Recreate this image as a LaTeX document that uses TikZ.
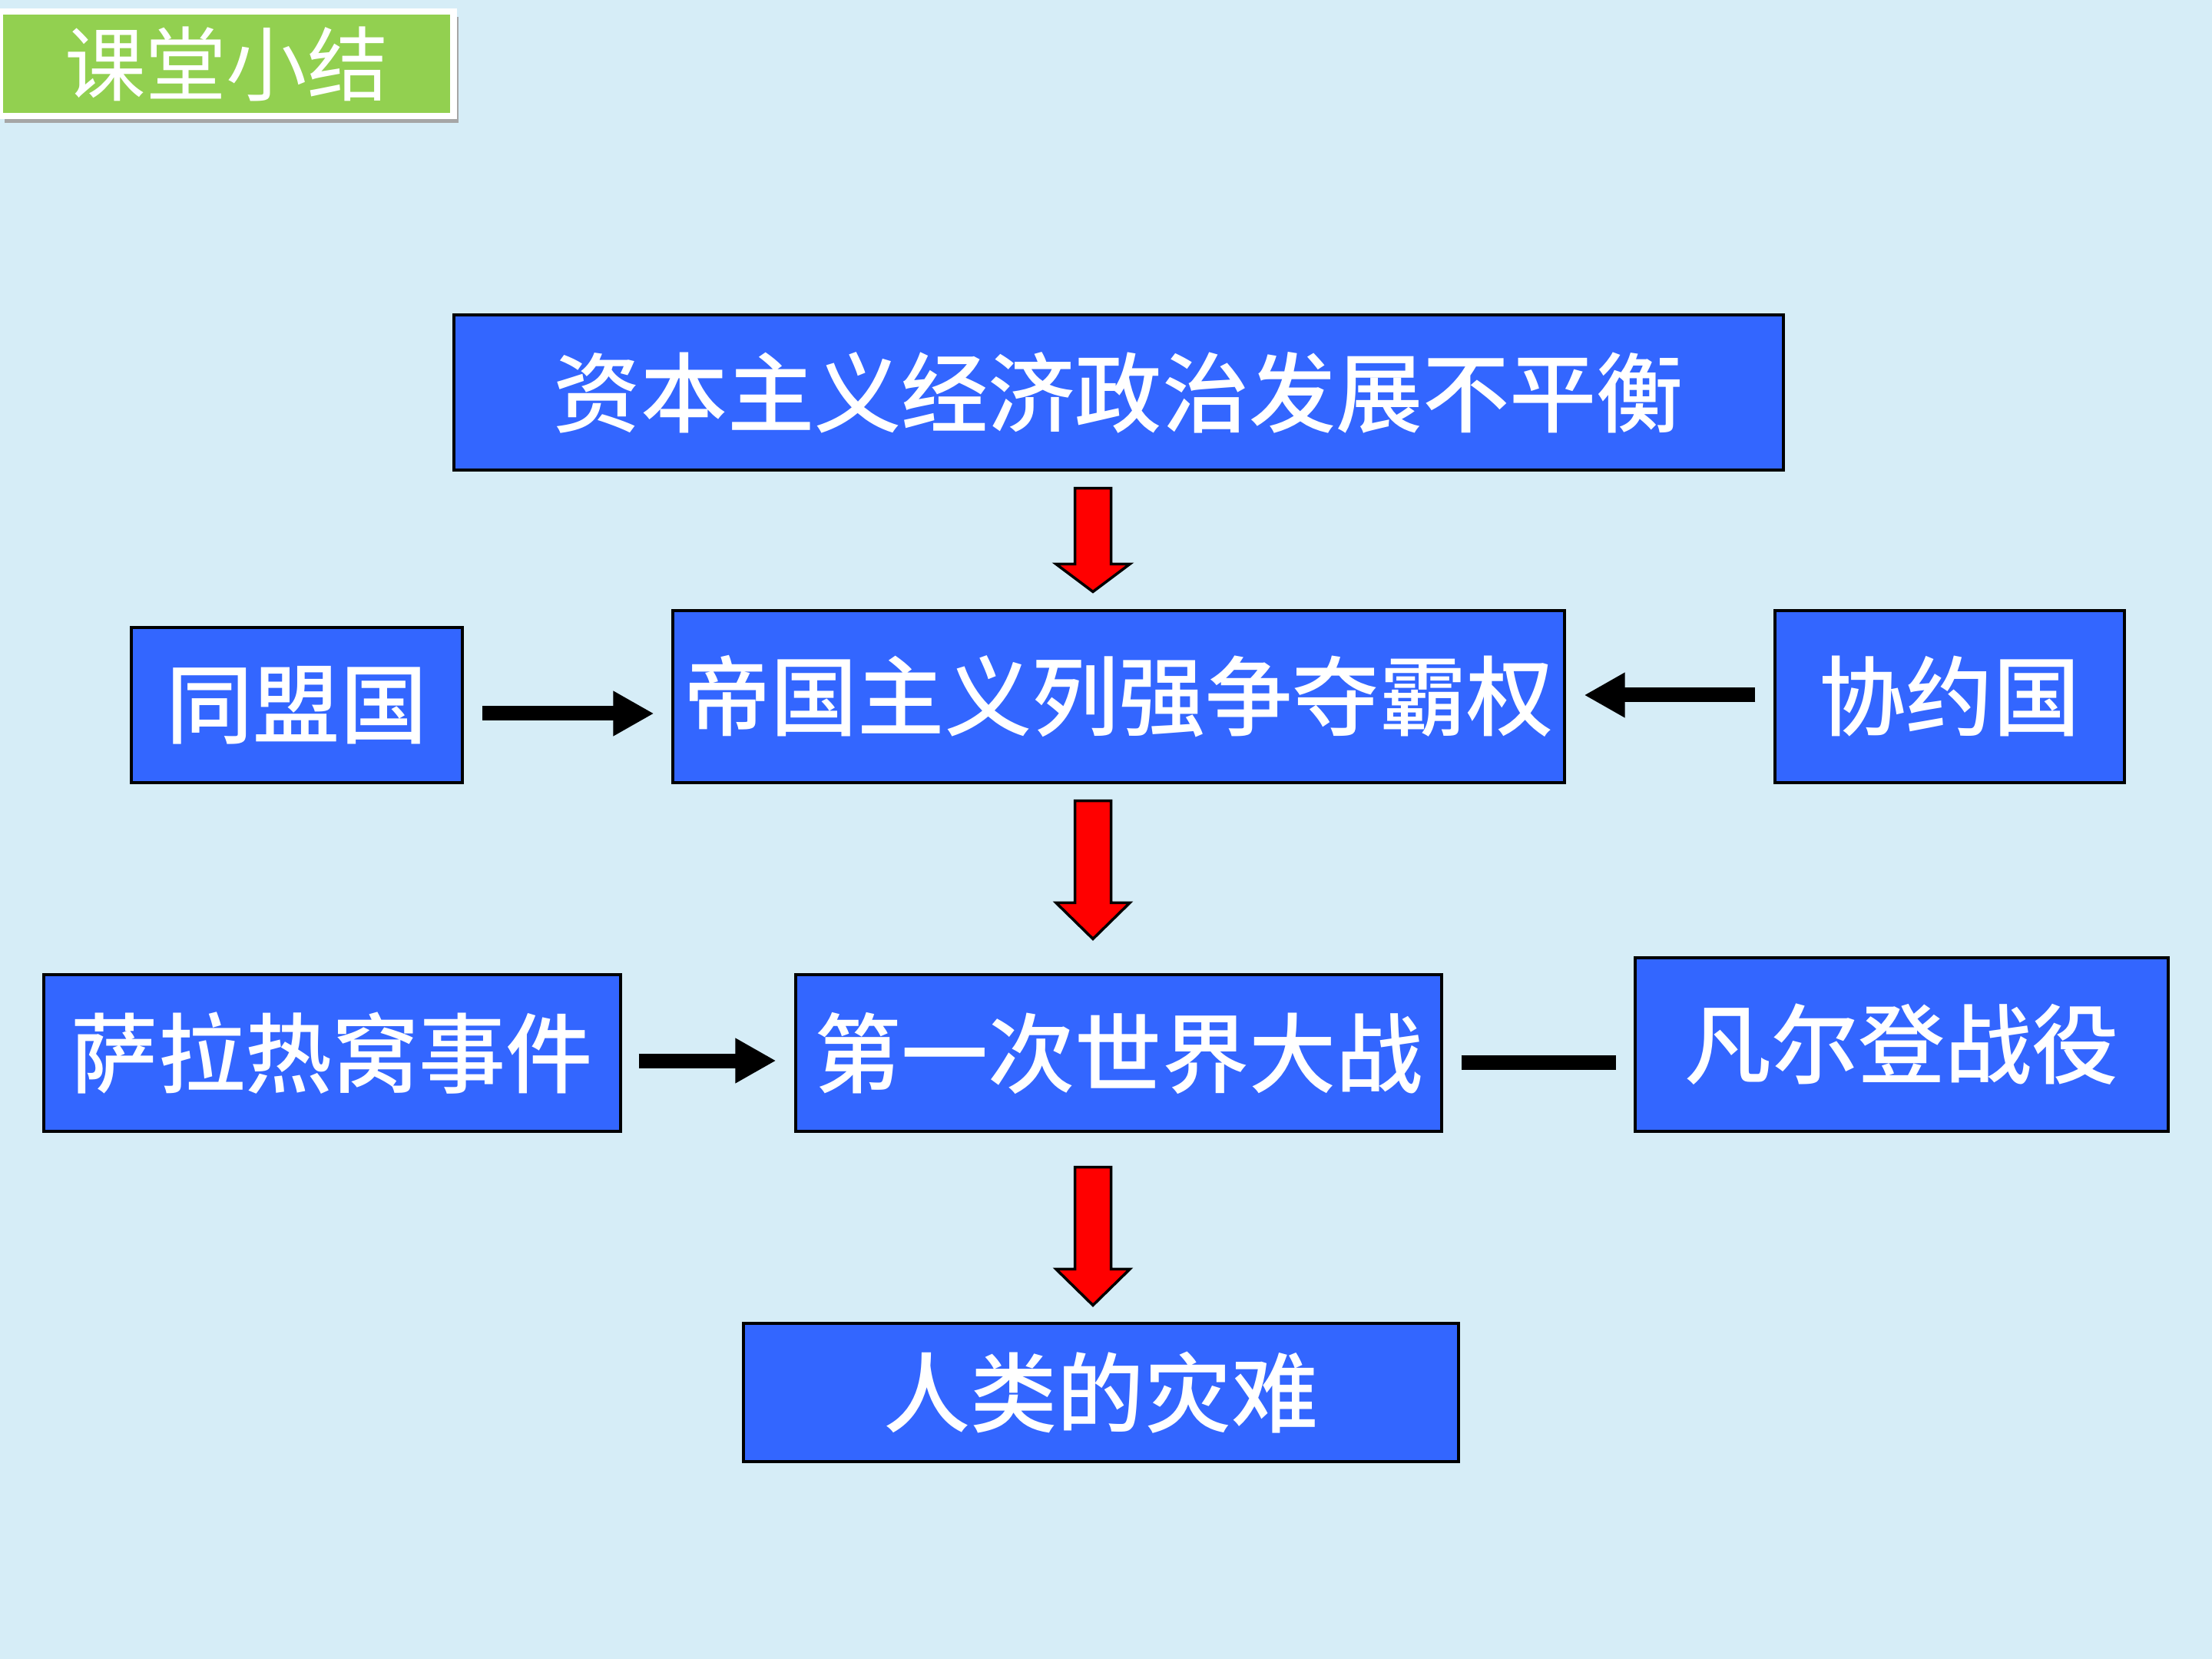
\documentclass[tikz,border=0pt]{standalone}
\usepackage{fontspec}
\usepackage{xcolor}
\usepackage{tikz}
\usetikzlibrary{positioning, calc, arrows.meta}

\newfontfamily\cjk{Noto Sans CJK SC}
\newfontfamily\cjkmed{Noto Sans CJK SC}[UprightFont={* Medium}]

\definecolor{slidebg}{RGB}{214,237,247}
\definecolor{boxblue}{RGB}{51,102,255}
\definecolor{titlegreen}{RGB}{146,208,80}
\definecolor{arrowred}{RGB}{255,0,0}

\tikzset{
  bluebox/.style={draw=black, line width=0.9pt, fill=boxblue, text=white,
    font=\cjkmed\fontsize{32.2}{32.2}\selectfont, inner sep=0pt, anchor=center},
  blackarrow/.style={line width=0.19cm, black,
    -{Triangle[length=0.53cm, width=0.55cm]}},
  blackline/.style={line width=0.19cm, black},
  redblock/.style={draw=black, line width=1pt, fill=arrowred, line join=miter}
}

% red block arrow: from, to, top gap, bottom gap, head length
\newcommand{\redblockarrow}[5]{%
  \draw[redblock] let \p1=($(#1.south)+(-0.335,-#3)$), \p2=($(#2.north)+(0,#4)$) in
    (\x1-0.235cm,\y1) -- (\x1+0.235cm,\y1) -- (\x1+0.235cm,\y2+#5) --
    (\x1+0.48cm,\y2+#5) -- (\x1,\y2) -- (\x1-0.48cm,\y2+#5) --
    (\x1-0.235cm,\y2+#5) -- cycle;
}

\begin{document}
\begin{tikzpicture}
  % background
  \fill[slidebg] (0,0) rectangle (28.8,-21.6);
  \useasboundingbox (0,0) rectangle (28.8,-21.6);

  % title tab
  \fill[black!35] (0.06,-0.22) rectangle (5.97,-1.6);
  \node[draw=white, line width=2.5pt, fill=titlegreen, text=white,
        minimum width=5.91cm, minimum height=1.36cm, inner sep=0pt,
        font=\cjk\fontsize{30}{30}\selectfont] (title) at (2.95,-0.83) {课堂小结};

  % boxes
  \node[bluebox, minimum width=17.31cm, minimum height=2.02cm] (causes) at (14.565,-5.11) {资本主义经济政治发展不平衡};
  \node[bluebox, minimum width=4.31cm, minimum height=2.02cm] (allies) at (3.865,-9.18) {同盟国};
  \node[bluebox, minimum width=11.61cm, minimum height=2.24cm] (rivalry) at (14.565,-9.07) {帝国主义列强争夺霸权};
  \node[bluebox, minimum width=4.55cm, minimum height=2.24cm] (entente) at (25.385,-9.07) {协约国};
  \node[bluebox, minimum width=7.51cm, minimum height=2.04cm] (sarajevo) at (4.325,-13.71) {萨拉热窝事件};
  \node[bluebox, minimum width=8.41cm, minimum height=2.04cm] (war) at (14.565,-13.71) {第一次世界大战};
  \node[bluebox, minimum width=6.94cm, minimum height=2.26cm] (verdun) at (24.76,-13.60) {凡尔登战役};
  \node[bluebox, minimum width=9.31cm, minimum height=1.80cm] (disaster) at (14.335,-18.13) {人类的灾难};

  % red arrows
  \redblockarrow{causes}{rivalry}{0.22cm}{0.23cm}{0.36cm}
  \redblockarrow{rivalry}{war}{0.22cm}{0.45cm}{0.47cm}
  \redblockarrow{war}{disaster}{0.45cm}{0.22cm}{0.47cm}

  % black arrows
  \draw[blackarrow, shorten <=0.24cm, shorten >=0.23cm]
    ([yshift=-0.11cm]allies.east) -- ([yshift=-0.11cm]allies.east -| rivalry.west);
  \draw[blackarrow, shorten <=0.24cm, shorten >=0.24cm]
    ([yshift=0.02cm]entente.west) -- ([yshift=0.02cm]entente.west -| rivalry.east);
  \draw[blackarrow, shorten <=0.22cm, shorten >=0.24cm]
    ([yshift=-0.10cm]sarajevo.east) -- ([yshift=-0.10cm]sarajevo.east -| war.west);
  \draw[blackline, shorten <=0.24cm, shorten >=0.23cm]
    ([yshift=-0.12cm]war.east) -- ([yshift=-0.12cm]war.east -| verdun.west);
\end{tikzpicture}
\end{document}
